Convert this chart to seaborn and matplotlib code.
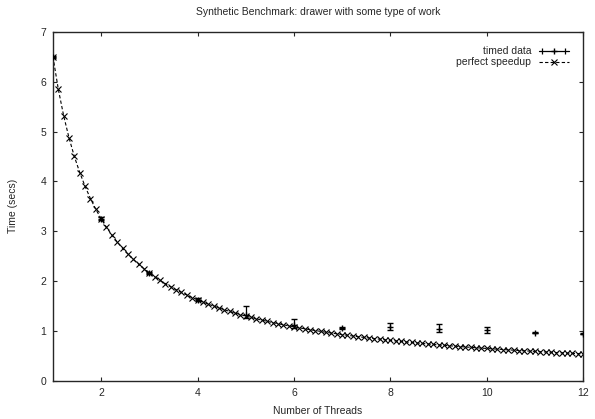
import matplotlib
matplotlib.use('Agg')
import matplotlib.pyplot as plt
from matplotlib.lines import Line2D
from matplotlib.legend_handler import HandlerLine2D, HandlerTuple
import numpy as np
import pandas as pd
import seaborn as sns

# timed data (mean and error bar ends)
threads = [1, 2, 3, 4, 5, 6, 7, 8, 9, 10, 11, 12]
time_mean = [6.5, 3.25, 2.17, 1.63, 1.33, 1.13, 1.06, 1.08, 1.05, 1.02, 0.97, 0.95]
time_low = [6.48, 3.22, 2.15, 1.61, 1.26, 1.07, 1.04, 1.02, 0.99, 0.97, 0.96, 0.94]
time_high = [6.52, 3.28, 2.19, 1.66, 1.51, 1.25, 1.08, 1.16, 1.14, 1.09, 0.99, 0.97]

# perfect speedup samples (100 samples between 1 and 12)
speedup_x = [
    1.0, 1.111, 1.222, 1.333, 1.444, 1.556, 1.667, 1.778, 1.889,
    2.0, 2.111, 2.222, 2.333, 2.444, 2.556, 2.667, 2.778, 2.889,
    3.0, 3.111, 3.222, 3.333, 3.444, 3.556, 3.667, 3.778, 3.889,
    4.0, 4.111, 4.222, 4.333, 4.444, 4.556, 4.667, 4.778, 4.889,
    5.0, 5.111, 5.222, 5.333, 5.444, 5.556, 5.667, 5.778, 5.889,
    6.0, 6.111, 6.222, 6.333, 6.444, 6.556, 6.667, 6.778, 6.889,
    7.0, 7.111, 7.222, 7.333, 7.444, 7.556, 7.667, 7.778, 7.889,
    8.0, 8.111, 8.222, 8.333, 8.444, 8.556, 8.667, 8.778, 8.889,
    9.0, 9.111, 9.222, 9.333, 9.444, 9.556, 9.667, 9.778, 9.889,
    10.0, 10.111, 10.222, 10.333, 10.444, 10.556, 10.667, 10.778, 10.889,
    11.0, 11.111, 11.222, 11.333, 11.444, 11.556, 11.667, 11.778, 11.889,
    12.0]
speedup_y = [
    6.5, 5.85, 5.318, 4.875, 4.5, 4.179, 3.9, 3.656, 3.441,
    3.25, 3.079, 2.925, 2.786, 2.659, 2.543, 2.438, 2.34, 2.25,
    2.167, 2.089, 2.017, 1.95, 1.887, 1.828, 1.773, 1.721, 1.671,
    1.625, 1.581, 1.539, 1.5, 1.463, 1.427, 1.393, 1.36, 1.33,
    1.3, 1.272, 1.245, 1.219, 1.194, 1.17, 1.147, 1.125, 1.104,
    1.083, 1.064, 1.045, 1.026, 1.009, 0.992, 0.975, 0.959, 0.944,
    0.929, 0.914, 0.9, 0.886, 0.873, 0.86, 0.848, 0.836, 0.824,
    0.813, 0.801, 0.791, 0.78, 0.77, 0.76, 0.75, 0.741, 0.731,
    0.722, 0.713, 0.705, 0.696, 0.688, 0.68, 0.672, 0.665, 0.657,
    0.65, 0.643, 0.636, 0.629, 0.622, 0.616, 0.609, 0.603, 0.597,
    0.591, 0.585, 0.579, 0.574, 0.568, 0.563, 0.557, 0.552, 0.547,
    0.542]

sns.set_style('ticks')
plt.rcParams['font.family'] = ['Liberation Sans', 'DejaVu Sans']
plt.rcParams['xtick.direction'] = 'in'
plt.rcParams['ytick.direction'] = 'in'

fig = plt.figure(figsize=(5.95, 4.19), dpi=100)
ax = fig.add_axes([0.089, 0.091, 0.891, 0.833])

df_t = pd.DataFrame({'threads': threads, 'mean': time_mean, 'low': time_low, 'high': time_high})
df_s = pd.DataFrame({'x': speedup_x, 'y': speedup_y})

yerr = np.vstack((df_t['mean'] - df_t['low'], df_t['high'] - df_t['mean']))
ax.errorbar(df_t['threads'], df_t['mean'], yerr=yerr, fmt='+', color='black',
            markersize=4, elinewidth=0.9, capsize=2.5, capthick=0.9, mew=1.0,
            zorder=3)

sns.lineplot(data=df_s, x='x', y='y', ax=ax, color='black', linewidth=0.8,
             linestyle=(0, (3, 2)), marker='x', markersize=4,
             markeredgewidth=0.8, markeredgecolor='black', zorder=2)

ax.set_xlim(1, 12)
ax.set_ylim(0, 7)
ax.set_xticks([2, 4, 6, 8, 10, 12])
ax.set_yticks(range(0, 8))
ax.tick_params(axis='both', labelsize=7.5, length=3, width=0.8, top=True, right=True, pad=5)
for s in ax.spines.values():
    s.set_linewidth(1.0)
    s.set_visible(True)

ax.set_xlabel('Number of Threads', fontsize=7.5, labelpad=6)
ax.set_ylabel('Time (secs)', fontsize=7.5, labelpad=16)
ax.set_title('Synthetic Benchmark: drawer with some type of work', fontsize=7.5, pad=12)

# gnuplot-like key: errorbar sample as |--+--|
h_line = Line2D([], [], color='black', lw=0.9, marker='+', markersize=4, mew=1.0)
h_caps = Line2D([], [], color='black', ls='none', marker='|', markersize=4, mew=0.9)
h_speed = Line2D([], [], color='black', lw=0.8, ls=(0, (3, 2)), marker='x',
                 markersize=4, mew=0.8)
leg = ax.legend([(h_line, h_caps), h_speed], ['timed data', 'perfect speedup'],
                handler_map={h_line: HandlerLine2D(numpoints=1),
                             h_caps: HandlerLine2D(numpoints=2),
                             tuple: HandlerTuple(ndivide=1)},
                loc='upper right', frameon=False, fontsize=7.5, markerfirst=False,
                handlelength=2.8, borderaxespad=1.0, labelspacing=0.1, handletextpad=0.8)

plt.savefig('out.png', dpi=100)
